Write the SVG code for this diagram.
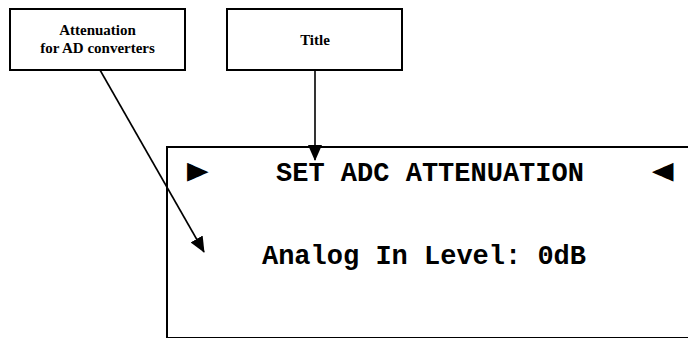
<svg xmlns="http://www.w3.org/2000/svg" width="688" height="338" viewBox="0 0 688 338">
<style>
.box{fill:#fff;stroke:#000;stroke-width:2}
.lbl{font-family:"Liberation Serif",serif;font-weight:bold;font-size:15px;fill:#000;text-anchor:middle}
.mono{font-family:"Liberation Mono",monospace;font-weight:bold;font-size:27px;fill:#000}
.tri{font-family:"DejaVu Sans",sans-serif;font-size:28px;fill:#000}
.conn{stroke:#000;stroke-width:1.6;fill:none}
</style>
<defs>
<marker id="ah" markerWidth="16" markerHeight="14" refX="15" refY="7" orient="auto" markerUnits="userSpaceOnUse">
<path d="M0,0 L16,7 L0,14 Z" fill="#000"/>
</marker>
</defs>
<g id="display">
<rect class="box" x="167" y="147" width="522" height="191"/>
<text class="tri" transform="translate(187,182) scale(1,1.35)">►</text>
<text class="mono" x="430" y="181" text-anchor="middle">SET ADC ATTENUATION</text>
<text class="tri" transform="translate(652,182) scale(1,1.35)">◄</text>
<text class="mono" x="424" y="264" text-anchor="middle">Analog In Level: 0dB</text>
</g>
<g id="label-attenuation">
<rect class="box" x="10" y="9" width="175" height="61"/>
<text class="lbl" x="97.5" y="35">Attenuation</text>
<text class="lbl" x="97.5" y="53">for AD converters</text>
</g>
<g id="label-title">
<rect class="box" x="227" y="9" width="175" height="61"/>
<text class="lbl" x="315" y="45">Title</text>
</g>
<g id="connectors">
<line class="conn" x1="315" y1="70" x2="315" y2="160" marker-end="url(#ah)"/>
<line class="conn" x1="100" y1="70" x2="204" y2="252" marker-end="url(#ah)"/>
</g>
</svg>
